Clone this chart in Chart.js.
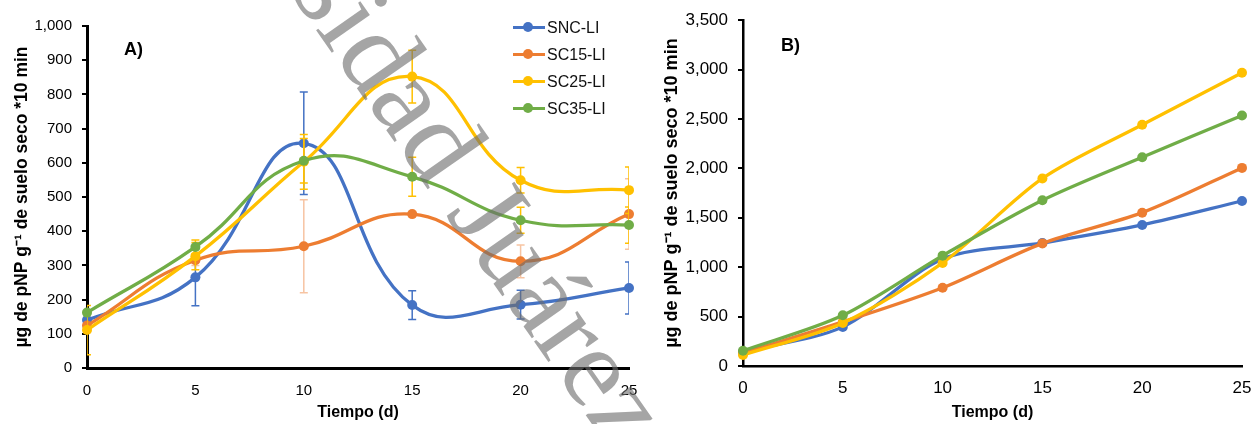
<!DOCTYPE html>
<html>
<head>
<meta charset="utf-8">
<script src="https://cdn.jsdelivr.net/npm/chart.js@4.4.1/dist/chart.umd.min.js"></script>
<style>
  body { margin: 0; background: #fff; width: 1256px; height: 424px; overflow: hidden; position: relative;
         font-family: 'Liberation Sans', Arial, sans-serif; }
  .box { position: absolute; top: 0; height: 424px; }
  #boxA { left: 0; width: 650px; }
  #boxB { left: 650px; width: 606px; }
  .panel { position: absolute; font-weight: bold; font-size: 18px; line-height: 18px; color: #000; }
  #legend { position: absolute; left: 513px; top: 13.5px; }
  .item { position: relative; height: 27px; width: 120px; }
  .item .ln { position: absolute; left: 0; top: 12px; width: 32px; height: 3px; }
  .item .dot { position: absolute; left: 10px; top: 8.5px; width: 10px; height: 10px; border-radius: 50%; }
  .item .tx { position: absolute; left: 34px; top: 0; line-height: 27px; font-size: 16px; color: #111; }
  #mark { position: absolute; left: 106px; top: -366px; font-family: 'Liberation Serif', 'Times New Roman', serif;
          font-size: 115px; line-height: 1; white-space: nowrap; color: rgba(110,110,110,0.62);
          transform-origin: 0 96px; transform: rotate(55deg); pointer-events: none; }
</style>
</head>
<body>
<div class="box" id="boxA"><canvas id="chartA" width="650" height="424"></canvas></div>
<div class="box" id="boxB"><canvas id="chartB" width="606" height="424"></canvas></div>
<div class="panel" style="left:124px; top:40px;">A)</div>
<div class="panel" style="left:781px; top:36px;">B)</div>
<div id="legend"></div>
<div id="mark">Universidad Juárez</div>
<script>
const days = [0, 5, 10, 15, 20, 25];
const names = ['SNC-LI', 'SC15-LI', 'SC25-LI', 'SC35-LI'];
const colors = ['#4472C4', '#ED7D31', '#FFC000', '#70AD47'];
const errColors = ['#4472C4', 'rgba(237,125,49,0.45)', '#FFC000', '#FFC000'];

// panel A
const sncA = [140, 265, 657, 184, 185, 234];
const sc15A = [124, 315, 356, 450, 312, 450];
const sc25A = [111, 327, 603, 852, 549, 520];
const sc35A = [162, 354, 606, 559, 432, 418];
const sncErrA = [0, 83, 150, 42, 42, 76];
const sc15ErrA = [0, 15, 136, 0, 48, 103];
const sc25ErrA = [72, 40, 80, 77, 37, 68];
const sc35ErrA = [0, 20, 65, 57, 38, 53];

// panel B
const sncB = [144, 396, 1083, 1245, 1428, 1670];
const sc15B = [130, 446, 792, 1241, 1552, 2005];
const sc25B = [111, 436, 1043, 1898, 2441, 2968];
const sc35B = [154, 513, 1117, 1677, 2113, 2535];

const yTitle = 'µg de pNP g⁻¹ de suelo seco *10 min';
const xTitle = 'Tiempo (d)';
const font = "'Liberation Sans', Arial, sans-serif";

const errorBars = {
  id: 'errorBars',
  beforeDatasetDraw(chart, args) {
    const ds = chart.data.datasets[args.index];
    if (!ds.err) return;
    const y = chart.scales.y;
    const a = chart.chartArea;
    const ctx = chart.ctx;
    ctx.save();
    ctx.beginPath();
    ctx.rect(a.left, 0, a.right - a.left, chart.height);
    ctx.clip();
    ctx.strokeStyle = ds.errColor;
    ctx.lineWidth = 1.5;
    args.meta.data.forEach((pt, i) => {
      const e = ds.err[i];
      if (!e) return;
      const v = ds.data[i].y;
      const t = y.getPixelForValue(v + e), b = y.getPixelForValue(v - e);
      ctx.beginPath();
      ctx.moveTo(pt.x, t); ctx.lineTo(pt.x, b);
      ctx.moveTo(pt.x - 4, t); ctx.lineTo(pt.x + 4, t);
      ctx.moveTo(pt.x - 4, b); ctx.lineTo(pt.x + 4, b);
      ctx.stroke();
    });
    ctx.restore();
  }
};

function makeSets(series, errs, tension) {
  return series.map((vals, i) => ({
    label: names[i],
    data: vals.map((v, j) => ({ x: days[j], y: v })),
    err: errs ? errs[i] : null,
    errColor: errColors[i],
    borderColor: colors[i],
    backgroundColor: colors[i],
    pointBackgroundColor: colors[i],
    pointBorderColor: colors[i],
    borderWidth: 3.3,
    pointRadius: 5,
    pointBorderWidth: 0,
    tension: tension,
    clip: false,
    order: 4 - i
  }));
}

function makeChart(id, sets, yMax, yStep, dims) {
  return new Chart(document.getElementById(id), {
    type: 'line',
    data: { datasets: sets },
    plugins: [errorBars],
    options: {
      responsive: false,
      animation: false,
      locale: 'en-US',
      layout: { padding: { top: dims.top, right: dims.right, left: 0, bottom: 0 } },
      plugins: { legend: { display: false }, tooltip: { enabled: false } },
      scales: {
        x: {
          type: 'linear', min: 0, max: 25,
          afterFit(s) { s.height = dims.xh; },
          ticks: { stepSize: 5, padding: dims.xpad, color: '#000', font: { family: font, size: dims.tick } },
          grid: { display: false },
          border: { color: '#000', width: dims.axis },
          title: { display: true, text: xTitle, color: '#000', padding: { top: 0, bottom: 2 },
                   font: { family: font, size: 16, weight: 'bold' } }
        },
        y: {
          min: 0, max: yMax,
          afterFit(s) { s.width = dims.yw; },
          ticks: { stepSize: yStep, padding: 10, color: '#000', font: { family: font, size: dims.tick } },
          grid: { drawOnChartArea: false, drawTicks: true, tickLength: 5, color: '#000', lineWidth: 2 },
          border: { color: '#000', width: dims.axis },
          title: { display: true, text: yTitle, color: '#000', padding: { top: dims.tpad, bottom: 0 },
                   font: { family: font, size: dims.title, weight: 'bold' } }
        }
      }
    }
  });
}

makeChart('chartA',
  makeSets([sncA, sc15A, sc25A, sc35A], [sncErrA, sc15ErrA, sc25ErrA, sc35ErrA], 0.45),
  1000, 100, { top: 26, right: 21, xh: 56, yw: 87, tick: 15, axis: 3, tpad: 12, title: 17.5, xpad: 6 });

makeChart('chartB',
  makeSets([sncB, sc15B, sc25B, sc35B], null, 0.3),
  3500, 500, { top: 18, right: 14, xh: 58, yw: 93, tick: 17, axis: 2.5, tpad: 11, title: 18, xpad: 4 });

const legend = document.getElementById('legend');
names.forEach((n, i) => {
  const it = document.createElement('div');
  it.className = 'item';
  it.innerHTML = '<div class="ln" style="background:' + colors[i] + '"></div>' +
    '<div class="dot" style="background:' + colors[i] + '"></div>' +
    '<div class="tx">' + n + '</div>';
  legend.appendChild(it);
});
</script>
</body>
</html>
